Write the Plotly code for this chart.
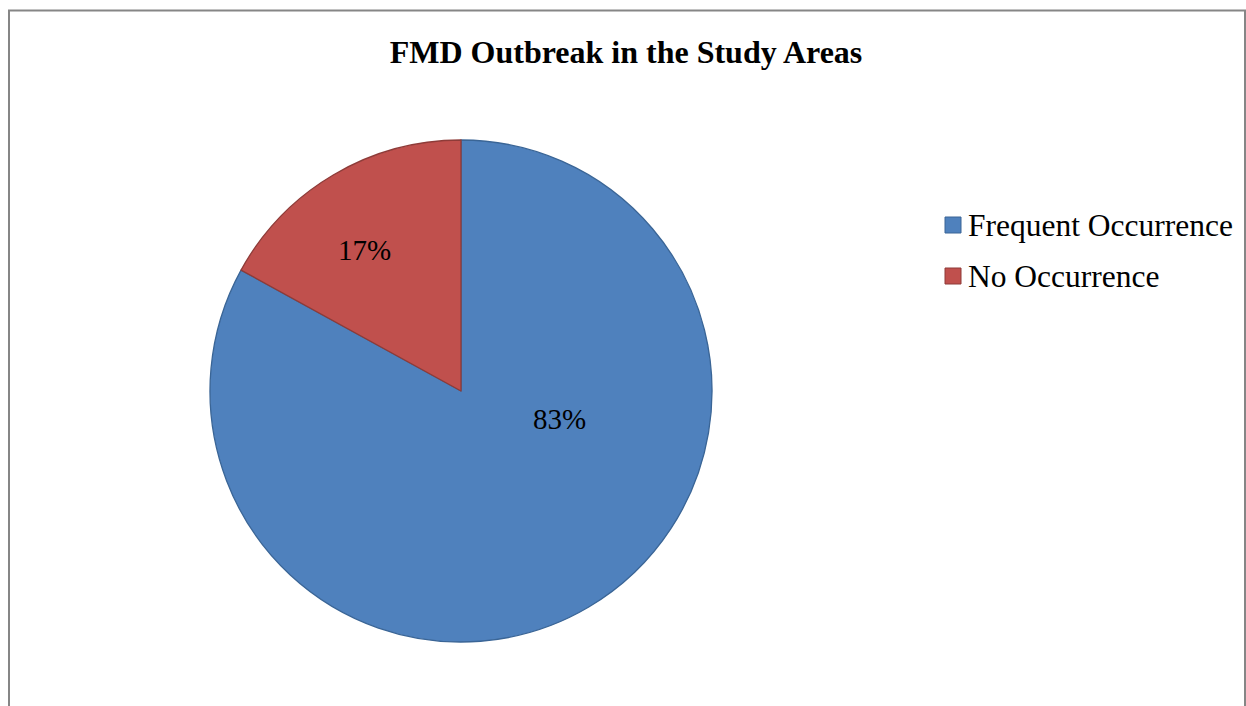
import plotly.graph_objects as go

# Data
categories = ["Frequent Occurrence", "No Occurrence"]
values = [83, 17]
colors = ["#4F81BD", "#C0504D"]
edge_colors = ["#3A6596", "#8E3B38"]
title_text = "FMD Outbreak in the Study Areas"

W, H = 1246, 706

def px_x(x):
    return x / W

def px_y(y):
    return 1 - y / H

# Pie geometry (pixels)
cx, cy, r = 461, 391, 251

fig = go.Figure()
fig.add_trace(go.Pie(
    labels=categories,
    values=values,
    sort=False,
    direction="clockwise",
    rotation=0,
    marker=dict(colors=colors, line=dict(color=edge_colors, width=1.3)),
    textinfo="none",
    domain=dict(x=[px_x(cx - r), px_x(cx + r)], y=[px_y(cy + r), px_y(cy - r)]),
    showlegend=False,
    hoverinfo="label+percent",
))

shapes = [
    dict(type="rect", xref="paper", yref="paper",
         x0=px_x(9), x1=px_x(1245), y0=px_y(10.5), y1=-0.05,
         line=dict(color="#868686", width=2), fillcolor="rgba(0,0,0,0)", layer="below"),
]
annotations = []

# Data labels (text from the values), placed as in the reference
total = sum(values)
label_pos = [(559, 419), (364, 250)]
for v, (lx, ly) in zip(values, label_pos):
    annotations.append(dict(xref="paper", yref="paper", x=px_x(lx), y=px_y(ly),
                            xanchor="center", yanchor="middle", showarrow=False,
                            text=f"{round(100 * v / total)}%",
                            font=dict(family="Liberation Serif", size=29, color="#000000")))

# Legend drawn from the categories / colors
leg_x_box, leg_box = 945, 16
leg_y0, leg_dy = 225, 51
for i, (lab, col, ec) in enumerate(zip(categories, colors, edge_colors)):
    yc = leg_y0 + leg_dy * i
    shapes.append(dict(type="rect", xref="paper", yref="paper",
                       x0=px_x(leg_x_box), x1=px_x(leg_x_box + leg_box),
                       y0=px_y(yc + leg_box / 2), y1=px_y(yc - leg_box / 2),
                       fillcolor=col, line=dict(color=ec, width=1)))
    annotations.append(dict(xref="paper", yref="paper", x=px_x(966), y=px_y(yc),
                            xanchor="left", yanchor="middle", showarrow=False,
                            text=lab,
                            font=dict(family="Liberation Serif", size=31.5, color="#000000")))

fig.update_layout(
    width=W, height=H,
    margin=dict(l=0, r=0, t=0, b=0),
    paper_bgcolor="white",
    plot_bgcolor="white",
    title=dict(text="<b>" + title_text + "</b>", x=626 / W, xanchor="center",
               y=1 - 52 / H, yanchor="middle", yref="container",
               font=dict(family="Liberation Serif", size=32, color="#000000")),
    shapes=shapes,
    annotations=annotations,
)

fig.write_html("out.html")
